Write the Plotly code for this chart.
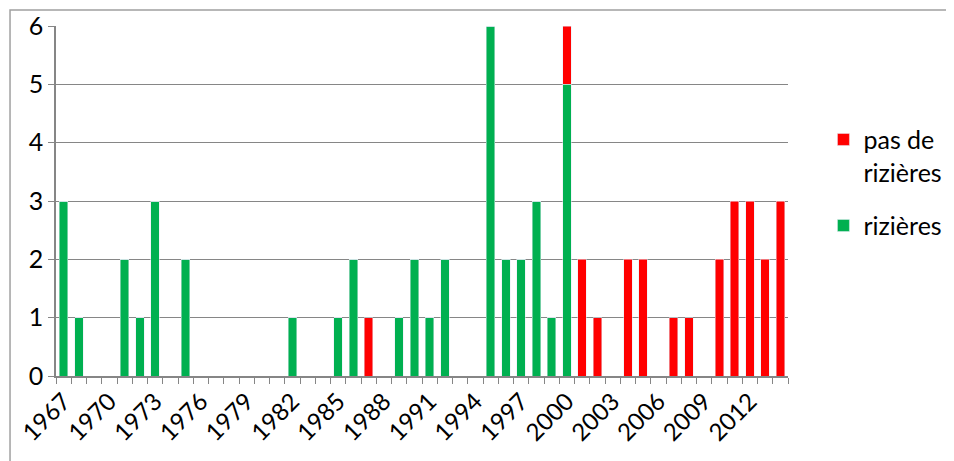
import plotly.graph_objects as go

years = list(range(1967, 2015))
rizieres = [3, 1, 0, 0, 2, 1, 3, 0, 2, 0, 0, 0, 0, 0, 0, 1, 0, 0, 1, 2, 0, 0, 1, 2,
            1, 2, 0, 0, 6, 2, 2, 3, 1, 5, 0, 0, 0, 0, 0, 0, 0, 0, 0, 0, 0, 0, 0, 0]
pas_rizieres = [0, 0, 0, 0, 0, 0, 0, 0, 0, 0, 0, 0, 0, 0, 0, 0, 0, 0, 0, 0, 1, 0, 0, 0,
                0, 0, 0, 0, 0, 0, 0, 0, 0, 1, 2, 1, 0, 2, 2, 0, 1, 1, 0, 2, 3, 3, 2, 3]
tick_years = list(range(1967, 2015, 3))

font = "Lato, 'Open Sans', sans-serif"
grey = "#868686"

fig = go.Figure()
fig.add_trace(go.Bar(x=years, y=rizieres, name="rizières", marker_color="#00b050",
                     legendgroup="g", legendrank=2))
fig.add_trace(go.Bar(x=years, y=pas_rizieres, name="pas de<br>rizières",
                     marker_color="#ff0000", legendgroup="r", legendrank=1))

# page body has an 8px margin, so the figure is shrunk by that amount
fig.update_layout(
    width=946, height=453,
    barmode="stack", bargap=0.45,
    plot_bgcolor="white", paper_bgcolor="white",
    margin=dict(l=48, r=166, t=18, b=85),
    font=dict(family=font, color="black"),
    legend=dict(xref="container", yref="container", x=0.862, y=0.76,
                xanchor="left", yanchor="top",
                traceorder="grouped", font=dict(size=25), itemwidth=30,
                valign="top", tracegroupgap=18),
    shapes=[dict(type="rect", xref="paper", yref="paper",
                 x0=-0.0628, x1=1.3, y0=-0.3, y1=1.046,
                 line=dict(color="#a0a0a0", width=1.5), layer="below")],
)
fig.update_xaxes(range=[1966.5, 2014.5], tickvals=tick_years, tickangle=-45,
                 tickfont=dict(size=24), showgrid=False, showline=True,
                 linecolor=grey, linewidth=1.5, ticks="", automargin=False,
                 minor=dict(ticks="outside", tick0=1966.5, dtick=1, ticklen=6,
                            tickcolor=grey, tickwidth=1))
fig.update_yaxes(range=[0, 6], dtick=1, tickfont=dict(size=25), showgrid=True,
                 gridcolor=grey, gridwidth=1, showline=True, linecolor=grey,
                 linewidth=1.5, ticks="outside", ticklen=6, tickcolor=grey,
                 zeroline=False, automargin=False)

fig.write_html("out.html")
